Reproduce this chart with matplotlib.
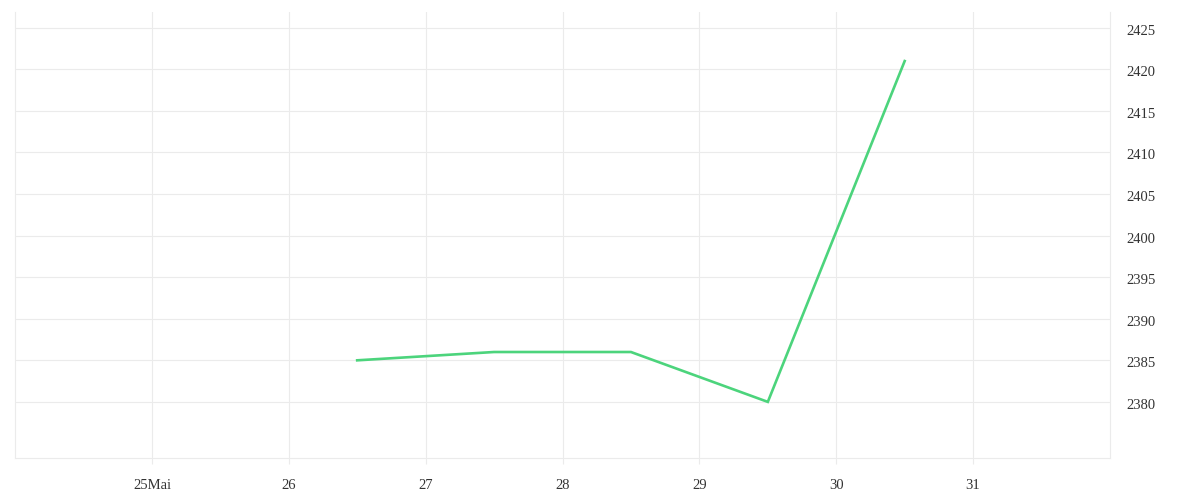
import datetime as dt
import numpy as np
import matplotlib
matplotlib.use('Agg')
import matplotlib.pyplot as plt
import matplotlib.dates as mdates
import matplotlib.transforms as mtransforms

# Data.
dates = [dt.datetime(2021, 5, 26, 12), dt.datetime(2021, 5, 27, 12),
         dt.datetime(2021, 5, 28, 12), dt.datetime(2021, 5, 29, 12),
         dt.datetime(2021, 5, 30, 12)]
values = [2385, 2386, 2386, 2380, 2421]

tick_days = [dt.datetime(2021, 5, d) for d in range(25, 32)]
tick_labels = ['25Mai', '26', '27', '28', '29', '30', '31']
y_ticks = list(range(2380, 2426, 5))

grid_col = '#ebebeb'
plt.rcParams['font.family'] = ['Liberation Serif', 'DejaVu Serif']

fig = plt.figure(figsize=(12.0, 5.0), dpi=100)
ax = fig.add_axes([15 / 1200, 1 - 458 / 500, 1095 / 1200, 446 / 500])

ax.plot(dates, values, color='#4cd47c', lw=1.9, solid_joinstyle='miter')

ax.set_xlim(dt.datetime(2021, 5, 24), dt.datetime(2021, 6, 1))
ax.set_ylim(2373.25, 2426.9)

ax.set_xticks(tick_days)
ax.set_xticklabels(tick_labels)
ax.set_yticks(y_ticks)

ax.yaxis.tick_right()
ax.tick_params(axis='y', length=0, pad=12, labelsize=10.5, labelcolor='#333333')
ax.tick_params(axis='x', length=4, width=0.8, color=grid_col, pad=11,
               labelsize=10.5, labelcolor='#333333')

# nudge the value labels down a touch, like the reference
shift = mtransforms.ScaledTranslation(0, -2 / 100, fig.dpi_scale_trans)
for lab in ax.get_yticklabels():
    lab.set_horizontalalignment('left')
    lab.set_transform(lab.get_transform() + shift)

ax.grid(True, color=grid_col, lw=0.8)
ax.set_axisbelow(True)
for side in ['left', 'right', 'bottom']:
    ax.spines[side].set_color(grid_col)
    ax.spines[side].set_linewidth(0.8)
ax.spines['top'].set_visible(False)

fig.savefig('out.png', dpi=100)
